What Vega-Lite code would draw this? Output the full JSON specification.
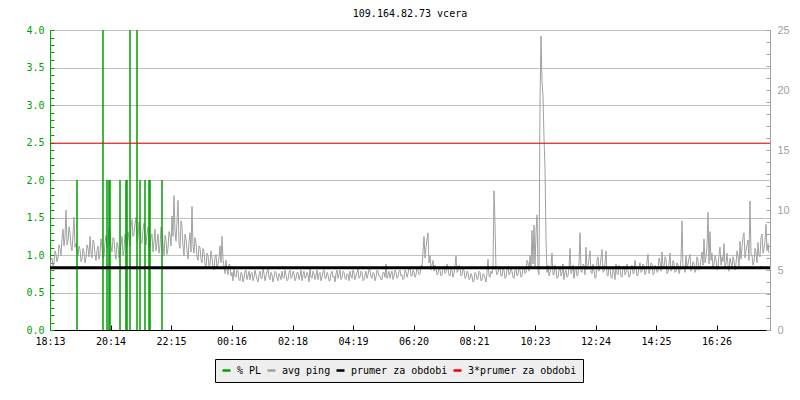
{
  "$schema": "https://vega.github.io/schema/vega-lite/v6.json",
  "width": 720,
  "height": 300,
  "autosize": {"type": "none"},
  "padding": {"left": 50, "top": 30, "right": 30, "bottom": 70},
  "background": "#ffffff",
  "title": {"text": "109.164.82.73 vcera", "anchor": "middle", "font": "DejaVu Sans Mono", "fontSize": 10, "fontWeight": "normal", "color": "#000000", "offset": 5},
  "datasets": {
    "ping": [
      {"t":0,"p":5.0},{"t":2,"p":5.9},{"t":4,"p":6.0},{"t":6,"p":5.3},{"t":8,"p":5.6},{"t":10,"p":6.6},{"t":12,"p":6.3},{"t":14,"p":5.7},{"t":16,"p":6.0},{"t":18,"p":7.1},
      {"t":20,"p":6.8},{"t":22,"p":6.2},{"t":24,"p":7.6},{"t":26,"p":8.4},{"t":28,"p":7.0},{"t":30,"p":7.8},{"t":32,"p":10.0},{"t":34,"p":7.1},{"t":36,"p":7.4},{"t":38,"p":8.6},
      {"t":40,"p":8.1},{"t":42,"p":7.0},{"t":44,"p":6.6},{"t":46,"p":7.9},{"t":48,"p":9.4},{"t":50,"p":6.9},{"t":52,"p":7.2},{"t":54,"p":6.5},{"t":56,"p":6.2},{"t":58,"p":7.0},
      {"t":60,"p":6.7},{"t":62,"p":5.7},{"t":64,"p":5.9},{"t":66,"p":6.8},{"t":68,"p":6.5},{"t":70,"p":5.6},{"t":72,"p":6.0},{"t":74,"p":7.1},{"t":76,"p":6.8},{"t":78,"p":6.1},
      {"t":80,"p":7.8},{"t":82,"p":6.5},{"t":84,"p":6.0},{"t":86,"p":7.5},{"t":88,"p":7.3},{"t":90,"p":6.3},{"t":92,"p":5.8},{"t":94,"p":6.6},{"t":96,"p":7.0},{"t":98,"p":5.9},
      {"t":100,"p":6.4},{"t":102,"p":7.6},{"t":104,"p":6.9},{"t":106,"p":6.0},{"t":108,"p":6.1},{"t":110,"p":7.3},{"t":112,"p":7.9},{"t":114,"p":6.8},{"t":116,"p":7.2},{"t":118,"p":8.5},
      {"t":120,"p":8.3},{"t":122,"p":7.0},{"t":124,"p":6.5},{"t":126,"p":7.7},{"t":128,"p":7.6},{"t":130,"p":6.4},{"t":132,"p":5.9},{"t":134,"p":7.3},{"t":136,"p":7.0},{"t":138,"p":6.0},
      {"t":140,"p":6.3},{"t":142,"p":7.1},{"t":144,"p":7.8},{"t":146,"p":6.2},{"t":148,"p":6.6},{"t":150,"p":8.0},{"t":152,"p":7.4},{"t":154,"p":6.9},{"t":156,"p":8.2},{"t":158,"p":7.5},
      {"t":160,"p":7.0},{"t":162,"p":8.6},{"t":164,"p":9.2},{"t":166,"p":7.8},{"t":168,"p":8.0},{"t":170,"p":8.9},{"t":172,"p":9.4},{"t":174,"p":7.4},{"t":176,"p":7.6},{"t":178,"p":9.0},
      {"t":180,"p":8.7},{"t":182,"p":7.2},{"t":184,"p":7.3},{"t":186,"p":8.3},{"t":188,"p":8.9},{"t":190,"p":7.6},{"t":192,"p":7.1},{"t":194,"p":8.0},{"t":196,"p":8.6},{"t":198,"p":6.7},
      {"t":200,"p":6.9},{"t":202,"p":7.7},{"t":204,"p":8.0},{"t":206,"p":6.5},{"t":208,"p":7.4},{"t":210,"p":8.4},{"t":212,"p":6.6},{"t":214,"p":7.3},{"t":216,"p":8.0},{"t":218,"p":6.4},
      {"t":220,"p":7.0},{"t":222,"p":8.6},{"t":224,"p":8.3},{"t":226,"p":7.1},{"t":228,"p":6.2},{"t":230,"p":7.9},{"t":232,"p":7.5},{"t":234,"p":6.3},{"t":236,"p":6.8},{"t":238,"p":8.2},
      {"t":240,"p":7.9},{"t":242,"p":7.0},{"t":244,"p":9.5},{"t":246,"p":7.8},{"t":248,"p":11.2},{"t":250,"p":8.3},{"t":252,"p":7.4},{"t":254,"p":9.0},{"t":256,"p":10.8},{"t":258,"p":7.2},
      {"t":260,"p":6.8},{"t":262,"p":9.1},{"t":264,"p":8.6},{"t":266,"p":7.0},{"t":268,"p":6.2},{"t":270,"p":8.0},{"t":272,"p":7.6},{"t":274,"p":6.6},{"t":276,"p":5.9},{"t":278,"p":7.3},
      {"t":280,"p":8.1},{"t":282,"p":6.5},{"t":284,"p":10.3},{"t":286,"p":7.0},{"t":288,"p":6.4},{"t":290,"p":7.7},{"t":292,"p":7.2},{"t":294,"p":6.1},{"t":296,"p":5.8},{"t":298,"p":7.0},
      {"t":300,"p":6.9},{"t":302,"p":5.9},{"t":304,"p":5.6},{"t":306,"p":6.8},{"t":308,"p":6.5},{"t":310,"p":5.5},{"t":312,"p":5.1},{"t":314,"p":6.4},{"t":316,"p":6.2},{"t":318,"p":5.3},
      {"t":320,"p":5.4},{"t":322,"p":6.6},{"t":324,"p":6.0},{"t":326,"p":5.2},{"t":328,"p":5.0},{"t":330,"p":6.1},{"t":332,"p":6.3},{"t":334,"p":5.1},{"t":336,"p":5.5},{"t":338,"p":6.0},
      {"t":340,"p":7.0},{"t":342,"p":5.6},{"t":344,"p":7.8},{"t":346,"p":5.9},{"t":348,"p":5.3},{"t":350,"p":4.7},{"t":352,"p":5.8},{"t":354,"p":5.0},{"t":356,"p":4.6},{"t":358,"p":5.5},
      {"t":360,"p":5.4},{"t":362,"p":4.5},{"t":364,"p":4.8},{"t":366,"p":4.1},{"t":368,"p":5.2},{"t":370,"p":4.5},{"t":372,"p":4.4},{"t":374,"p":5.0},{"t":376,"p":4.9},{"t":378,"p":4.2},
      {"t":380,"p":4.1},{"t":382,"p":4.8},{"t":384,"p":4.7},{"t":386,"p":4.0},{"t":388,"p":4.3},{"t":390,"p":4.9},{"t":392,"p":5.0},{"t":394,"p":4.2},{"t":396,"p":4.5},{"t":398,"p":4.9},
      {"t":400,"p":4.2},{"t":402,"p":4.7},{"t":404,"p":4.8},{"t":406,"p":4.1},{"t":408,"p":4.4},{"t":410,"p":5.0},{"t":412,"p":4.6},{"t":414,"p":4.2},{"t":416,"p":4.0},{"t":418,"p":4.6},
      {"t":420,"p":4.9},{"t":422,"p":4.3},{"t":424,"p":4.3},{"t":426,"p":5.1},{"t":428,"p":4.7},{"t":430,"p":4.1},{"t":432,"p":4.5},{"t":434,"p":4.9},{"t":436,"p":5.1},{"t":438,"p":4.4},
      {"t":440,"p":4.2},{"t":442,"p":4.8},{"t":444,"p":4.6},{"t":446,"p":4.0},{"t":448,"p":4.4},{"t":450,"p":4.9},{"t":452,"p":4.8},{"t":454,"p":4.3},{"t":456,"p":4.1},{"t":458,"p":4.7},
      {"t":460,"p":4.5},{"t":462,"p":4.2},{"t":464,"p":4.9},{"t":466,"p":4.4},{"t":468,"p":4.3},{"t":470,"p":5.0},{"t":472,"p":4.6},{"t":474,"p":4.1},{"t":476,"p":4.2},{"t":478,"p":4.8},
      {"t":480,"p":5.0},{"t":482,"p":4.3},{"t":484,"p":4.4},{"t":486,"p":4.9},{"t":488,"p":4.7},{"t":490,"p":4.1},{"t":492,"p":4.3},{"t":494,"p":4.8},{"t":496,"p":4.8},{"t":498,"p":4.2},
      {"t":500,"p":4.5},{"t":502,"p":5.0},{"t":504,"p":4.1},{"t":506,"p":4.6},{"t":508,"p":4.9},{"t":510,"p":4.3},{"t":512,"p":4.4},{"t":514,"p":4.8},{"t":516,"p":4.6},{"t":518,"p":4.0},
      {"t":520,"p":5.2},{"t":522,"p":4.4},{"t":524,"p":4.3},{"t":526,"p":4.9},{"t":528,"p":4.7},{"t":530,"p":4.2},{"t":532,"p":4.5},{"t":534,"p":5.0},{"t":536,"p":4.2},{"t":538,"p":4.6},
      {"t":540,"p":4.8},{"t":542,"p":4.1},{"t":544,"p":4.4},{"t":546,"p":4.9},{"t":548,"p":5.0},{"t":550,"p":4.3},{"t":552,"p":4.3},{"t":554,"p":4.8},{"t":556,"p":4.6},{"t":558,"p":4.1},
      {"t":560,"p":4.1},{"t":562,"p":4.7},{"t":564,"p":4.9},{"t":566,"p":4.4},{"t":568,"p":4.5},{"t":570,"p":4.0},{"t":572,"p":4.7},{"t":574,"p":5.0},{"t":576,"p":4.3},{"t":578,"p":4.6},
      {"t":580,"p":5.0},{"t":582,"p":4.2},{"t":584,"p":4.4},{"t":586,"p":4.9},{"t":588,"p":4.8},{"t":590,"p":4.3},{"t":592,"p":4.2},{"t":594,"p":4.7},{"t":596,"p":4.6},{"t":598,"p":4.1},
      {"t":600,"p":4.9},{"t":602,"p":4.5},{"t":604,"p":4.3},{"t":606,"p":5.0},{"t":608,"p":4.7},{"t":610,"p":4.2},{"t":612,"p":4.5},{"t":614,"p":4.8},{"t":616,"p":5.1},{"t":618,"p":4.3},
      {"t":620,"p":4.4},{"t":622,"p":4.9},{"t":624,"p":4.8},{"t":626,"p":4.1},{"t":628,"p":4.2},{"t":630,"p":4.6},{"t":632,"p":4.9},{"t":634,"p":4.3},{"t":636,"p":4.6},{"t":638,"p":5.1},
      {"t":640,"p":5.0},{"t":642,"p":4.4},{"t":644,"p":4.3},{"t":646,"p":4.8},{"t":648,"p":4.7},{"t":650,"p":4.1},{"t":652,"p":4.4},{"t":654,"p":5.0},{"t":656,"p":4.9},{"t":658,"p":4.5},
      {"t":660,"p":4.5},{"t":662,"p":4.2},{"t":664,"p":4.2},{"t":666,"p":4.8},{"t":668,"p":4.8},{"t":670,"p":4.4},{"t":672,"p":5.5},{"t":674,"p":4.3},{"t":676,"p":4.6},{"t":678,"p":4.9},
      {"t":680,"p":4.3},{"t":682,"p":4.7},{"t":684,"p":4.9},{"t":686,"p":4.2},{"t":688,"p":4.5},{"t":690,"p":5.0},{"t":692,"p":4.8},{"t":694,"p":4.3},{"t":696,"p":4.4},{"t":698,"p":4.9},
      {"t":700,"p":5.0},{"t":702,"p":4.5},{"t":704,"p":4.6},{"t":706,"p":4.2},{"t":708,"p":4.3},{"t":710,"p":5.0},{"t":712,"p":4.9},{"t":714,"p":4.4},{"t":716,"p":4.7},{"t":718,"p":5.1},
      {"t":720,"p":5.2},{"t":722,"p":4.5},{"t":724,"p":4.5},{"t":726,"p":5.0},{"t":728,"p":4.8},{"t":730,"p":4.4},{"t":732,"p":4.6},{"t":734,"p":5.2},{"t":736,"p":5.0},{"t":738,"p":4.6},
      {"t":740,"p":4.7},{"t":742,"p":5.4},{"t":744,"p":5.3},{"t":746,"p":6.5},{"t":748,"p":7.8},{"t":750,"p":6.0},{"t":752,"p":6.9},{"t":754,"p":7.5},{"t":756,"p":8.1},{"t":758,"p":5.6},
      {"t":760,"p":6.2},{"t":762,"p":5.0},{"t":764,"p":5.4},{"t":766,"p":5.8},{"t":768,"p":4.9},{"t":770,"p":5.4},{"t":772,"p":5.2},{"t":774,"p":4.6},{"t":776,"p":4.7},{"t":778,"p":5.3},
      {"t":780,"p":5.0},{"t":782,"p":4.5},{"t":784,"p":4.6},{"t":786,"p":5.2},{"t":788,"p":5.3},{"t":790,"p":4.7},{"t":792,"p":4.8},{"t":794,"p":5.5},{"t":796,"p":5.1},{"t":798,"p":4.6},
      {"t":800,"p":4.5},{"t":802,"p":5.1},{"t":804,"p":5.0},{"t":806,"p":4.4},{"t":808,"p":4.7},{"t":810,"p":5.3},{"t":812,"p":6.2},{"t":814,"p":4.8},{"t":816,"p":4.9},{"t":818,"p":5.4},
      {"t":820,"p":5.2},{"t":822,"p":4.5},{"t":824,"p":4.6},{"t":826,"p":5.1},{"t":828,"p":5.0},{"t":830,"p":4.3},{"t":832,"p":4.4},{"t":834,"p":4.9},{"t":836,"p":4.8},{"t":838,"p":4.2},
      {"t":840,"p":4.3},{"t":842,"p":4.7},{"t":844,"p":4.5},{"t":846,"p":4.0},{"t":848,"p":4.1},{"t":850,"p":4.8},{"t":852,"p":4.7},{"t":854,"p":4.2},{"t":856,"p":4.3},{"t":858,"p":4.9},
      {"t":860,"p":4.8},{"t":862,"p":4.1},{"t":864,"p":4.2},{"t":866,"p":4.7},{"t":868,"p":4.6},{"t":870,"p":4.3},{"t":872,"p":4.0},{"t":874,"p":4.8},{"t":876,"p":5.9},{"t":878,"p":4.5},
      {"t":880,"p":4.4},{"t":882,"p":4.9},{"t":884,"p":4.7},{"t":886,"p":5.2},{"t":888,"p":11.6},{"t":890,"p":8.9},{"t":892,"p":5.0},{"t":894,"p":4.6},{"t":896,"p":4.8},{"t":898,"p":5.3},
      {"t":900,"p":5.2},{"t":902,"p":4.5},{"t":904,"p":4.5},{"t":906,"p":5.1},{"t":908,"p":5.0},{"t":910,"p":4.3},{"t":912,"p":4.4},{"t":914,"p":5.0},{"t":916,"p":5.3},{"t":918,"p":4.6},
      {"t":920,"p":4.7},{"t":922,"p":5.2},{"t":924,"p":4.9},{"t":926,"p":4.4},{"t":928,"p":4.3},{"t":930,"p":5.0},{"t":932,"p":5.1},{"t":934,"p":4.5},{"t":936,"p":4.6},{"t":938,"p":5.3},
      {"t":940,"p":5.0},{"t":942,"p":4.4},{"t":944,"p":4.5},{"t":946,"p":5.2},{"t":948,"p":5.2},{"t":950,"p":4.7},{"t":952,"p":4.8},{"t":954,"p":5.8},{"t":956,"p":5.6},{"t":958,"p":4.9},
      {"t":960,"p":6.2},{"t":962,"p":5.1},{"t":964,"p":8.3},{"t":966,"p":5.5},{"t":968,"p":8.75},{"t":970,"p":5.3},{"t":972,"p":8.1},{"t":974,"p":9.6},{"t":976,"p":5.0},{"t":978,"p":4.6},
      {"t":980,"p":19.0},{"t":982,"p":24.5},{"t":984,"p":20.8},{"t":986,"p":19.5},{"t":988,"p":16.0},{"t":990,"p":13.5},{"t":992,"p":7.5},{"t":994,"p":4.8},{"t":996,"p":5.4},{"t":998,"p":4.5},
      {"t":1000,"p":4.8},{"t":1002,"p":5.3},{"t":1004,"p":6.4},{"t":1006,"p":4.6},{"t":1008,"p":4.6},{"t":1010,"p":5.4},{"t":1012,"p":5.1},{"t":1014,"p":4.3},{"t":1016,"p":4.4},{"t":1018,"p":5.0},
      {"t":1020,"p":5.3},{"t":1022,"p":4.5},{"t":1024,"p":4.7},{"t":1026,"p":5.5},{"t":1028,"p":4.2},{"t":1030,"p":4.8},{"t":1032,"p":5.0},{"t":1034,"p":4.4},{"t":1036,"p":4.5},{"t":1038,"p":5.2},
      {"t":1040,"p":6.8},{"t":1042,"p":4.7},{"t":1044,"p":4.9},{"t":1046,"p":5.4},{"t":1048,"p":4.3},{"t":1050,"p":5.0},{"t":1052,"p":5.2},{"t":1054,"p":4.5},{"t":1056,"p":4.6},{"t":1058,"p":5.6},
      {"t":1060,"p":8.1},{"t":1062,"p":4.9},{"t":1064,"p":4.8},{"t":1066,"p":5.5},{"t":1068,"p":5.4},{"t":1070,"p":4.6},{"t":1072,"p":6.9},{"t":1074,"p":5.0},{"t":1076,"p":5.2},{"t":1078,"p":6.0},
      {"t":1080,"p":6.6},{"t":1082,"p":4.8},{"t":1084,"p":4.7},{"t":1086,"p":5.5},{"t":1088,"p":5.0},{"t":1090,"p":4.3},{"t":1092,"p":4.4},{"t":1094,"p":5.8},{"t":1096,"p":6.1},{"t":1098,"p":4.9},
      {"t":1100,"p":5.3},{"t":1102,"p":6.0},{"t":1104,"p":6.7},{"t":1106,"p":4.8},{"t":1108,"p":4.9},{"t":1110,"p":5.6},{"t":1112,"p":6.6},{"t":1114,"p":4.6},{"t":1116,"p":4.5},{"t":1118,"p":5.3},
      {"t":1120,"p":5.2},{"t":1122,"p":4.4},{"t":1124,"p":4.3},{"t":1126,"p":5.1},{"t":1128,"p":4.9},{"t":1130,"p":4.2},{"t":1132,"p":5.5},{"t":1134,"p":4.7},{"t":1136,"p":4.6},{"t":1138,"p":5.4},
      {"t":1140,"p":5.1},{"t":1142,"p":4.5},{"t":1144,"p":4.4},{"t":1146,"p":5.2},{"t":1148,"p":5.3},{"t":1150,"p":4.6},{"t":1152,"p":4.8},{"t":1154,"p":5.5},{"t":1156,"p":5.0},{"t":1158,"p":4.4},
      {"t":1160,"p":4.5},{"t":1162,"p":5.2},{"t":1164,"p":5.4},{"t":1166,"p":4.7},{"t":1168,"p":4.7},{"t":1170,"p":5.8},{"t":1172,"p":5.2},{"t":1174,"p":4.5},{"t":1176,"p":4.6},{"t":1178,"p":5.3},
      {"t":1180,"p":5.6},{"t":1182,"p":4.8},{"t":1184,"p":4.9},{"t":1186,"p":5.5},{"t":1188,"p":5.3},{"t":1190,"p":4.6},{"t":1192,"p":4.8},{"t":1194,"p":5.7},{"t":1196,"p":6.3},{"t":1198,"p":4.7},
      {"t":1200,"p":5.0},{"t":1202,"p":5.6},{"t":1204,"p":5.5},{"t":1206,"p":4.6},{"t":1208,"p":4.7},{"t":1210,"p":5.4},{"t":1212,"p":5.3},{"t":1214,"p":4.8},{"t":1216,"p":4.9},{"t":1218,"p":6.0},
      {"t":1220,"p":5.7},{"t":1222,"p":4.9},{"t":1224,"p":6.5},{"t":1226,"p":5.3},{"t":1228,"p":5.2},{"t":1230,"p":6.1},{"t":1232,"p":5.9},{"t":1234,"p":4.7},{"t":1236,"p":4.8},{"t":1238,"p":5.5},
      {"t":1240,"p":6.4},{"t":1242,"p":4.9},{"t":1244,"p":5.1},{"t":1246,"p":5.8},{"t":1248,"p":5.6},{"t":1250,"p":4.8},{"t":1252,"p":4.9},{"t":1254,"p":5.6},{"t":1256,"p":5.4},{"t":1258,"p":4.7},
      {"t":1260,"p":5.0},{"t":1262,"p":5.9},{"t":1264,"p":9.1},{"t":1266,"p":5.2},{"t":1268,"p":5.3},{"t":1270,"p":4.8},{"t":1272,"p":6.2},{"t":1274,"p":5.1},{"t":1276,"p":5.5},{"t":1278,"p":6.0},
      {"t":1280,"p":6.3},{"t":1282,"p":4.9},{"t":1284,"p":5.1},{"t":1286,"p":5.7},{"t":1288,"p":5.6},{"t":1290,"p":4.8},{"t":1292,"p":5.0},{"t":1294,"p":6.1},{"t":1296,"p":5.8},{"t":1298,"p":5.0},
      {"t":1300,"p":5.3},{"t":1302,"p":5.9},{"t":1304,"p":6.5},{"t":1306,"p":5.4},{"t":1308,"p":7.6},{"t":1310,"p":5.6},{"t":1312,"p":6.0},{"t":1314,"p":7.0},{"t":1316,"p":9.8},{"t":1318,"p":5.5},
      {"t":1320,"p":8.2},{"t":1322,"p":5.8},{"t":1324,"p":6.4},{"t":1326,"p":5.1},{"t":1328,"p":5.5},{"t":1330,"p":6.2},{"t":1332,"p":5.9},{"t":1334,"p":5.0},{"t":1336,"p":5.2},{"t":1338,"p":6.3},
      {"t":1340,"p":6.9},{"t":1342,"p":5.4},{"t":1344,"p":6.1},{"t":1346,"p":5.7},{"t":1348,"p":7.2},{"t":1350,"p":5.2},{"t":1352,"p":5.6},{"t":1354,"p":6.4},{"t":1356,"p":5.4},{"t":1358,"p":4.9},
      {"t":1360,"p":6.0},{"t":1362,"p":5.6},{"t":1364,"p":5.2},{"t":1366,"p":6.1},{"t":1368,"p":5.8},{"t":1370,"p":5.0},{"t":1372,"p":5.5},{"t":1374,"p":6.6},{"t":1376,"p":6.2},{"t":1378,"p":5.3},
      {"t":1380,"p":7.4},{"t":1382,"p":5.9},{"t":1384,"p":6.9},{"t":1386,"p":7.8},{"t":1388,"p":8.1},{"t":1390,"p":6.0},{"t":1392,"p":6.6},{"t":1394,"p":7.1},{"t":1396,"p":7.5},{"t":1398,"p":5.8},
      {"t":1400,"p":10.75},{"t":1402,"p":6.4},{"t":1404,"p":6.2},{"t":1406,"p":5.4},{"t":1408,"p":5.7},{"t":1410,"p":6.8},{"t":1412,"p":6.5},{"t":1414,"p":5.6},{"t":1416,"p":7.3},{"t":1418,"p":6.2},
      {"t":1420,"p":6.1},{"t":1422,"p":7.7},{"t":1424,"p":8.0},{"t":1426,"p":6.4},{"t":1428,"p":6.8},{"t":1430,"p":7.4},{"t":1432,"p":8.8},{"t":1434,"p":6.6},{"t":1436,"p":7.2},{"t":1438,"p":6.4}
    ],
    "pl": [
      {"t":54,"pl":2},{"t":106,"pl":4},{"t":114,"pl":2},{"t":118,"pl":2},{"t":120,"pl":2},
      {"t":140,"pl":2},{"t":152,"pl":2},{"t":154,"pl":2},{"t":160,"pl":4},{"t":174,"pl":4},
      {"t":180,"pl":2},{"t":190,"pl":2},{"t":198,"pl":2},{"t":200,"pl":2},{"t":224,"pl":2}
    ],
    "avg": [{"s":"prumer za obdobi","v":5.19}],
    "avg3": [{"s":"3*prumer za obdobi","v":15.57}]
  },
  "layer": [
    {
      "data": {"name": "ping"},
      "mark": {"type": "line", "strokeWidth": 1, "clip": true},
      "encoding": {
        "x": {"field": "t", "type": "quantitative", "scale": {"domain": [0, 1440], "nice": false, "zero": false},
          "axis": {"values": [0,121,242,363,485,606,727,848,970,1091,1212,1333],
            "labelExpr": "timeFormat(datetime(2000,0,1,18,13+datum.value),'%H:%M')",
            "title": null, "grid": false, "domainColor": "#000000", "tickColor": "#000000", "tickSize": -5,
            "labelColor": "#000000", "labelPadding": 11, "labelFlush": false, "labelOverlap": false,
            "labelFont": "DejaVu Sans Mono", "labelFontSize": 10}},
        "y": {"field": "p", "type": "quantitative", "scale": {"domain": [0, 25], "nice": false, "zero": true},
          "axis": {"orient": "right", "values": [0,1,2,3,4,5,6,7,8,9,10,11,12,13,14,15,16,17,18,19,20,21,22,23,24,25],
            "labelExpr": "datum.value % 5 === 0 ? datum.label : ''",
            "title": null, "grid": false, "domainColor": "#a0a0a0", "tickColor": "#a0a0a0", "tickSize": -4,
            "labelColor": "#a0a0a0", "labelPadding": 11, "labelOverlap": false,
            "labelFont": "Liberation Sans", "labelFontSize": 11}},
        "color": {"datum": "avg ping", "type": "nominal", "title": null,
          "scale": {"domain": ["% PL", "avg ping", "prumer za obdobi", "3*prumer za obdobi"], "range": ["#00a000", "#a0a0a0", "#000000", "#ee0000"]},
          "legend": {"orient": "none", "legendX": 165, "legendY": 329, "direction": "horizontal", "title": null,
            "symbolType": "stroke", "symbolSize": 64, "symbolStrokeWidth": 2.5, "gridAlign": "none",
            "labelFont": "DejaVu Sans Mono", "labelFontSize": 10, "labelColor": "#000000",
            "fillColor": "#eeeeee", "strokeColor": "#000000", "padding": 6, "columnPadding": 0, "labelOffset": 5}}
      }
    },
    {
      "data": {"name": "pl"},
      "mark": {"type": "rule", "strokeWidth": 1.5, "clip": true},
      "encoding": {
        "x": {"field": "t", "type": "quantitative"},
        "y": {"field": "pl", "type": "quantitative", "scale": {"domain": [0, 4], "nice": false},
          "axis": {"orient": "left", "values": [0,0.1,0.2,0.3,0.4,0.5,0.6,0.7,0.8,0.9,1,1.1,1.2,1.3,1.4,1.5,1.6,1.7,1.8,1.9,2,2.1,2.2,2.3,2.4,2.5,2.6,2.7,2.8,2.9,3,3.1,3.2,3.3,3.4,3.5,3.6,3.7,3.8,3.9,4],
            "labelExpr": "round(datum.value*10) % 5 === 0 ? format(datum.value, '.1f') : ''",
            "title": null, "grid": true, "gridColor": "#c0c0c0",
            "gridOpacity": {"condition": {"test": "round(datum.value*10) % 5 !== 0", "value": 0}, "value": 1},
            "domainColor": "#00a000", "tickColor": "#00a000", "tickSize": -4,
            "labelColor": "#00a000", "labelPadding": 10, "labelOverlap": false,
            "labelFont": "DejaVu Sans Mono", "labelFontSize": 10}},
        "y2": {"datum": 0},
        "color": {"datum": "% PL", "type": "nominal", "title": null,
          "scale": {"domain": ["% PL", "avg ping", "prumer za obdobi", "3*prumer za obdobi"], "range": ["#00a000", "#a0a0a0", "#000000", "#ee0000"]}}
      }
    },
    {
      "layer": [
        {
          "data": {"name": "avg"},
          "mark": {"type": "rule", "strokeWidth": 3},
          "encoding": {
            "y": {"field": "v", "type": "quantitative", "scale": {"domain": [0, 25], "nice": false}, "axis": null},
            "color": {"field": "s", "type": "nominal", "title": null,
              "scale": {"domain": ["% PL", "avg ping", "prumer za obdobi", "3*prumer za obdobi"], "range": ["#00a000", "#a0a0a0", "#000000", "#ee0000"]}}
          }
        },
        {
          "data": {"name": "avg3"},
          "mark": {"type": "rule", "strokeWidth": 1},
          "encoding": {
            "y": {"field": "v", "type": "quantitative", "scale": {"domain": [0, 25], "nice": false}, "axis": null},
            "color": {"field": "s", "type": "nominal", "title": null,
              "scale": {"domain": ["% PL", "avg ping", "prumer za obdobi", "3*prumer za obdobi"], "range": ["#00a000", "#a0a0a0", "#000000", "#ee0000"]}}
          }
        }
      ]
    }
  ],
  "resolve": {"scale": {"y": "independent"}},
  "config": {
    "view": {"stroke": null},
    "font": "DejaVu Sans Mono"
  }
}
